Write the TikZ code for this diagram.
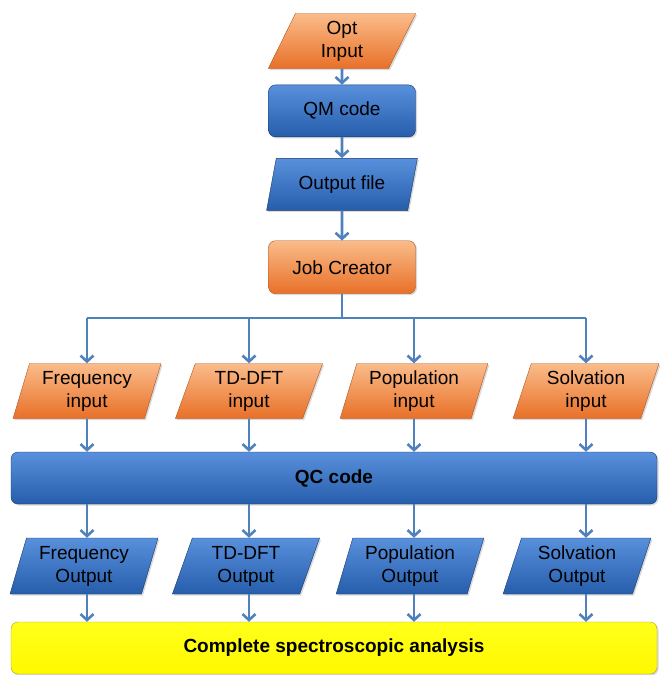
\documentclass[tikz,border=0pt]{standalone}
\usepackage{fontspec}
\setmainfont{Liberation Sans}
\usetikzlibrary{arrows.meta, positioning, shapes.geometric, shadows}
\definecolor{orangetop}{RGB}{250,188,138}
\definecolor{orangebot}{RGB}{232,112,40}
\definecolor{bluetop}{RGB}{88,144,220}
\definecolor{bluebot}{RGB}{38,94,172}
\definecolor{linkblue}{RGB}{79,129,189}

\begin{document}
\begin{tikzpicture}[x=1pt, y=-1pt, font=\fontsize{19}{23}\selectfont,
    every node/.style={align=center, inner sep=2pt},
    shade3d/.style={drop shadow={opacity=0.3, shadow xshift=1.5pt, shadow yshift=-1.5pt}},
    para/.style={trapezium, trapezium left angle=73, trapezium right angle=107, trapezium stretches=true, minimum width=148pt, minimum height=55pt, shade3d},
    orangepara/.style={para, top color=orangetop, bottom color=orangebot, draw=orangebot!75!black},
    bluepara/.style={para, top color=bluetop, bottom color=bluebot, draw=bluebot!60!black},
    orangebox/.style={rectangle, rounded corners=7pt, minimum width=147pt, minimum height=53pt, top color=orangetop, bottom color=orangebot, draw=orangebot!75!black, shade3d},
    bluebox/.style={rectangle, rounded corners=7pt, minimum width=147pt, minimum height=52pt, top color=bluetop, bottom color=bluebot, draw=bluebot!60!black, shade3d},
    widebox/.style={rectangle, rounded corners=7pt, minimum width=646pt, minimum height=52pt, font=\fontsize{19}{23}\selectfont\bfseries, shade3d},
    link/.style={draw=linkblue, line width=2.6pt, -{Straight Barb[length=6pt, width=13pt]}}]
    \useasboundingbox (0,0) rectangle (660,675);

    \node[orangepara] (opt) at (342,41) {Opt\\Input};
    \node[bluebox] (qm) [below=16pt of opt] {QM code};
    \node[bluepara, minimum width=151pt, minimum height=52pt] (outf) [below=21pt of qm] {Output file};
    \node[orangebox] (job) [below=30pt of outf] {Job Creator};

    \node[orangepara] (finp) at (87,391) {Frequency\\input};
    \node[orangepara] (tinp) at (249,391) {TD-DFT\\input};
    \node[orangepara] (pinp) at (414,391) {Population\\input};
    \node[orangepara, minimum width=146pt] (sinp) at (586,391) {Solvation\\input};

    \node[widebox, top color=bluetop, bottom color=bluebot, draw=bluebot!60!black] (qc) at (334,478) {QC code};

    \node[bluepara, minimum height=56pt] (fout) at (84,566) {Frequency\\Output};
    \node[bluepara, minimum height=56pt] (tout) at (246,566) {TD-DFT\\Output};
    \node[bluepara, minimum height=56pt] (pout) at (410,566) {Population\\Output};
    \node[bluepara, minimum height=56pt] (sout) at (577,566) {Solvation\\Output};

    \node[widebox, top color=yellow!90!white, bottom color=yellow!95!orange, draw=yellow!60!black] (spec) at (334,648) {Complete spectroscopic analysis};

    \draw[link] (opt) -- (qm);
    \draw[link] (qm) -- (outf);
    \draw[link] (outf) -- (job);
    \draw[link, -] (job.south) -- ++(0,24) coordinate (split);
    \draw[link, -] (split -| finp.north) -- (split -| sinp.north);
    \foreach \inp/\out in {finp/fout, tinp/tout, pinp/pout, sinp/sout} {
        \draw[link] (split -| \inp.north) -- (\inp.north);
        \draw[link] (\inp.south) -- (\inp.south |- qc.north);
        \draw[link] (qc.south -| \inp.south) -- (\out.north -| \inp.south);
        \draw[link] (\out.south -| \inp.south) -- (spec.north -| \inp.south);
    }
\end{tikzpicture}
\end{document}
